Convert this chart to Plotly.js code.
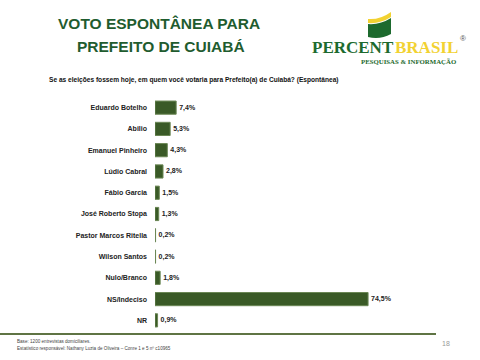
<!DOCTYPE html>
<html>
<head>
<meta charset="utf-8">
<script src="https://cdn.plot.ly/plotly-3.0.1.min.js"></script>
<style>html,body{margin:0;padding:0;background:#fff;}#chart{width:480px;height:360px;}</style>
</head>
<body>
<div id="chart"></div>
<script>
const categories = ["Eduardo Botelho","Abilio","Emanuel Pinheiro","Lúdio Cabral","Fábio Garcia","José Roberto Stopa","Pastor Marcos Ritella","Wilson Santos","Nulo/Branco","NS/Indeciso","NR"];
const values = [7.4, 5.3, 4.3, 2.8, 1.5, 1.3, 0.2, 0.2, 1.8, 74.5, 0.9];
const titleLines = ["VOTO ESPONTÂNEA PARA", "PREFEITO DE CUIABÁ"];
const question = "Se as eleições fossem hoje, em quem você votaria para Prefeito(a) de Cuiabá? (Espontânea)";
const footer1 = "Base: 1200 entrevistas domiciliares.";
const footer2 = "Estatístico responsável: Nathany Luzia de Oliveira – Conre 1 e 5 nº c10965";
const pageNum = "18";

const L = 155, R = 39, T = 97, B = 29, Wd = 480, Ht = 360;
const PW = Wd - L - R, PH = Ht - T - B;
const px = x => (x - L) / PW;
const py = y => (Ht - B - y) / PH;
const pathXY = pts => pts.map(p => (p[0]==='Q' ? 'Q' + px(p[1]) + ',' + py(p[2]) + ' ' + px(p[3]) + ',' + py(p[4]) : p[0] + px(p[1]) + ',' + py(p[2]))).join(' ') + ' Z';

const sans = "Liberation Sans, Arial, sans-serif";
const serif = "Liberation Serif, Times New Roman, serif";

const trace = {
  type: 'bar', orientation: 'h',
  y: categories, x: values,
  marker: {color: '#3a5a27', line: {color: '#6b8755', width: 1}},
  texttemplate: '%{x:.1f}%', textposition: 'outside', cliponaxis: false,
  textfont: {family: sans, size: 7, color: '#222', weight: 'bold'},
  hoverinfo: 'none'
};

const ann = (text, x, y, opts) => Object.assign({text, xref: 'paper', yref: 'paper', x: px(x), y: py(y), showarrow: false, xanchor: 'center', yanchor: 'middle', borderpad: 0}, opts);

const layout = {
  width: Wd, height: Ht,
  margin: {l: L, r: R, t: T, b: B, pad: 0},
  paper_bgcolor: '#fff', plot_bgcolor: '#fff',
  separators: ',.',
  showlegend: false,
  bargap: 0.38,
  xaxis: {range: [0, 100], visible: false, fixedrange: true},
  yaxis: {type: 'category', autorange: 'reversed', showgrid: false, zeroline: false, showline: false, ticks: '', ticklabelstandoff: 7,
          tickfont: {family: sans, size: 7, color: '#222', weight: 'bold'}},
  annotations: [
    ann(titleLines[0], 159, 23, {font: {family: sans, size: 15.5, color: '#1f5c2f', weight: 'bold'}}),
    ann(titleLines[1], 161, 46, {font: {family: sans, size: 15.5, color: '#1f5c2f', weight: 'bold'}}),
    ann(question, 48, 80, {xanchor: 'left', font: {family: sans, size: 6.6, color: '#111', weight: 'bold'}}),
    ann('PERCENT', 395, 47, {xanchor: 'right', font: {family: serif, size: 17, color: '#1d6a2e', weight: 'bold'}}),
    ann('BRASIL', 394, 47, {xanchor: 'left', font: {family: serif, size: 17, color: '#f2d232', weight: 'bold'}}),
    ann('®', 459, 38, {xanchor: 'left', font: {family: sans, size: 8, color: '#555'}}),
    ann('PESQUISAS &amp; INFORMAÇÃO', 457, 61.5, {xanchor: 'right', font: {family: serif, size: 6.8, color: '#1d6a2e', weight: 'bold'}}),
    ann(footer1, 16, 341, {xanchor: 'left', font: {family: sans, size: 4.6, color: '#444'}}),
    ann(footer2, 16, 348, {xanchor: 'left', font: {family: sans, size: 4.6, color: '#444'}}),
    ann(pageNum, 446, 343, {font: {family: sans, size: 7, color: '#999'}})
  ],
  shapes: [
    {type: 'line', xref: 'paper', yref: 'paper', x0: px(0), x1: px(436), y0: py(334), y1: py(334), line: {color: '#5f7444', width: 2}},
    {type: 'path', xref: 'paper', yref: 'paper', fillcolor: '#f2d232', line: {width: 0},
     path: pathXY([['M',368,19],['Q',380,20,391,12],['L',391,17],['Q',380,24,368,23]])},
    {type: 'path', xref: 'paper', yref: 'paper', fillcolor: '#1d6a2e', line: {width: 0},
     path: pathXY([['M',368,24],['Q',380,25,391,18],['L',391,34],['Q',380,40,368,37]])}
  ]
};

Plotly.newPlot('chart', [trace], layout, {staticPlot: true, displayModeBar: false});
</script>
</body>
</html>
